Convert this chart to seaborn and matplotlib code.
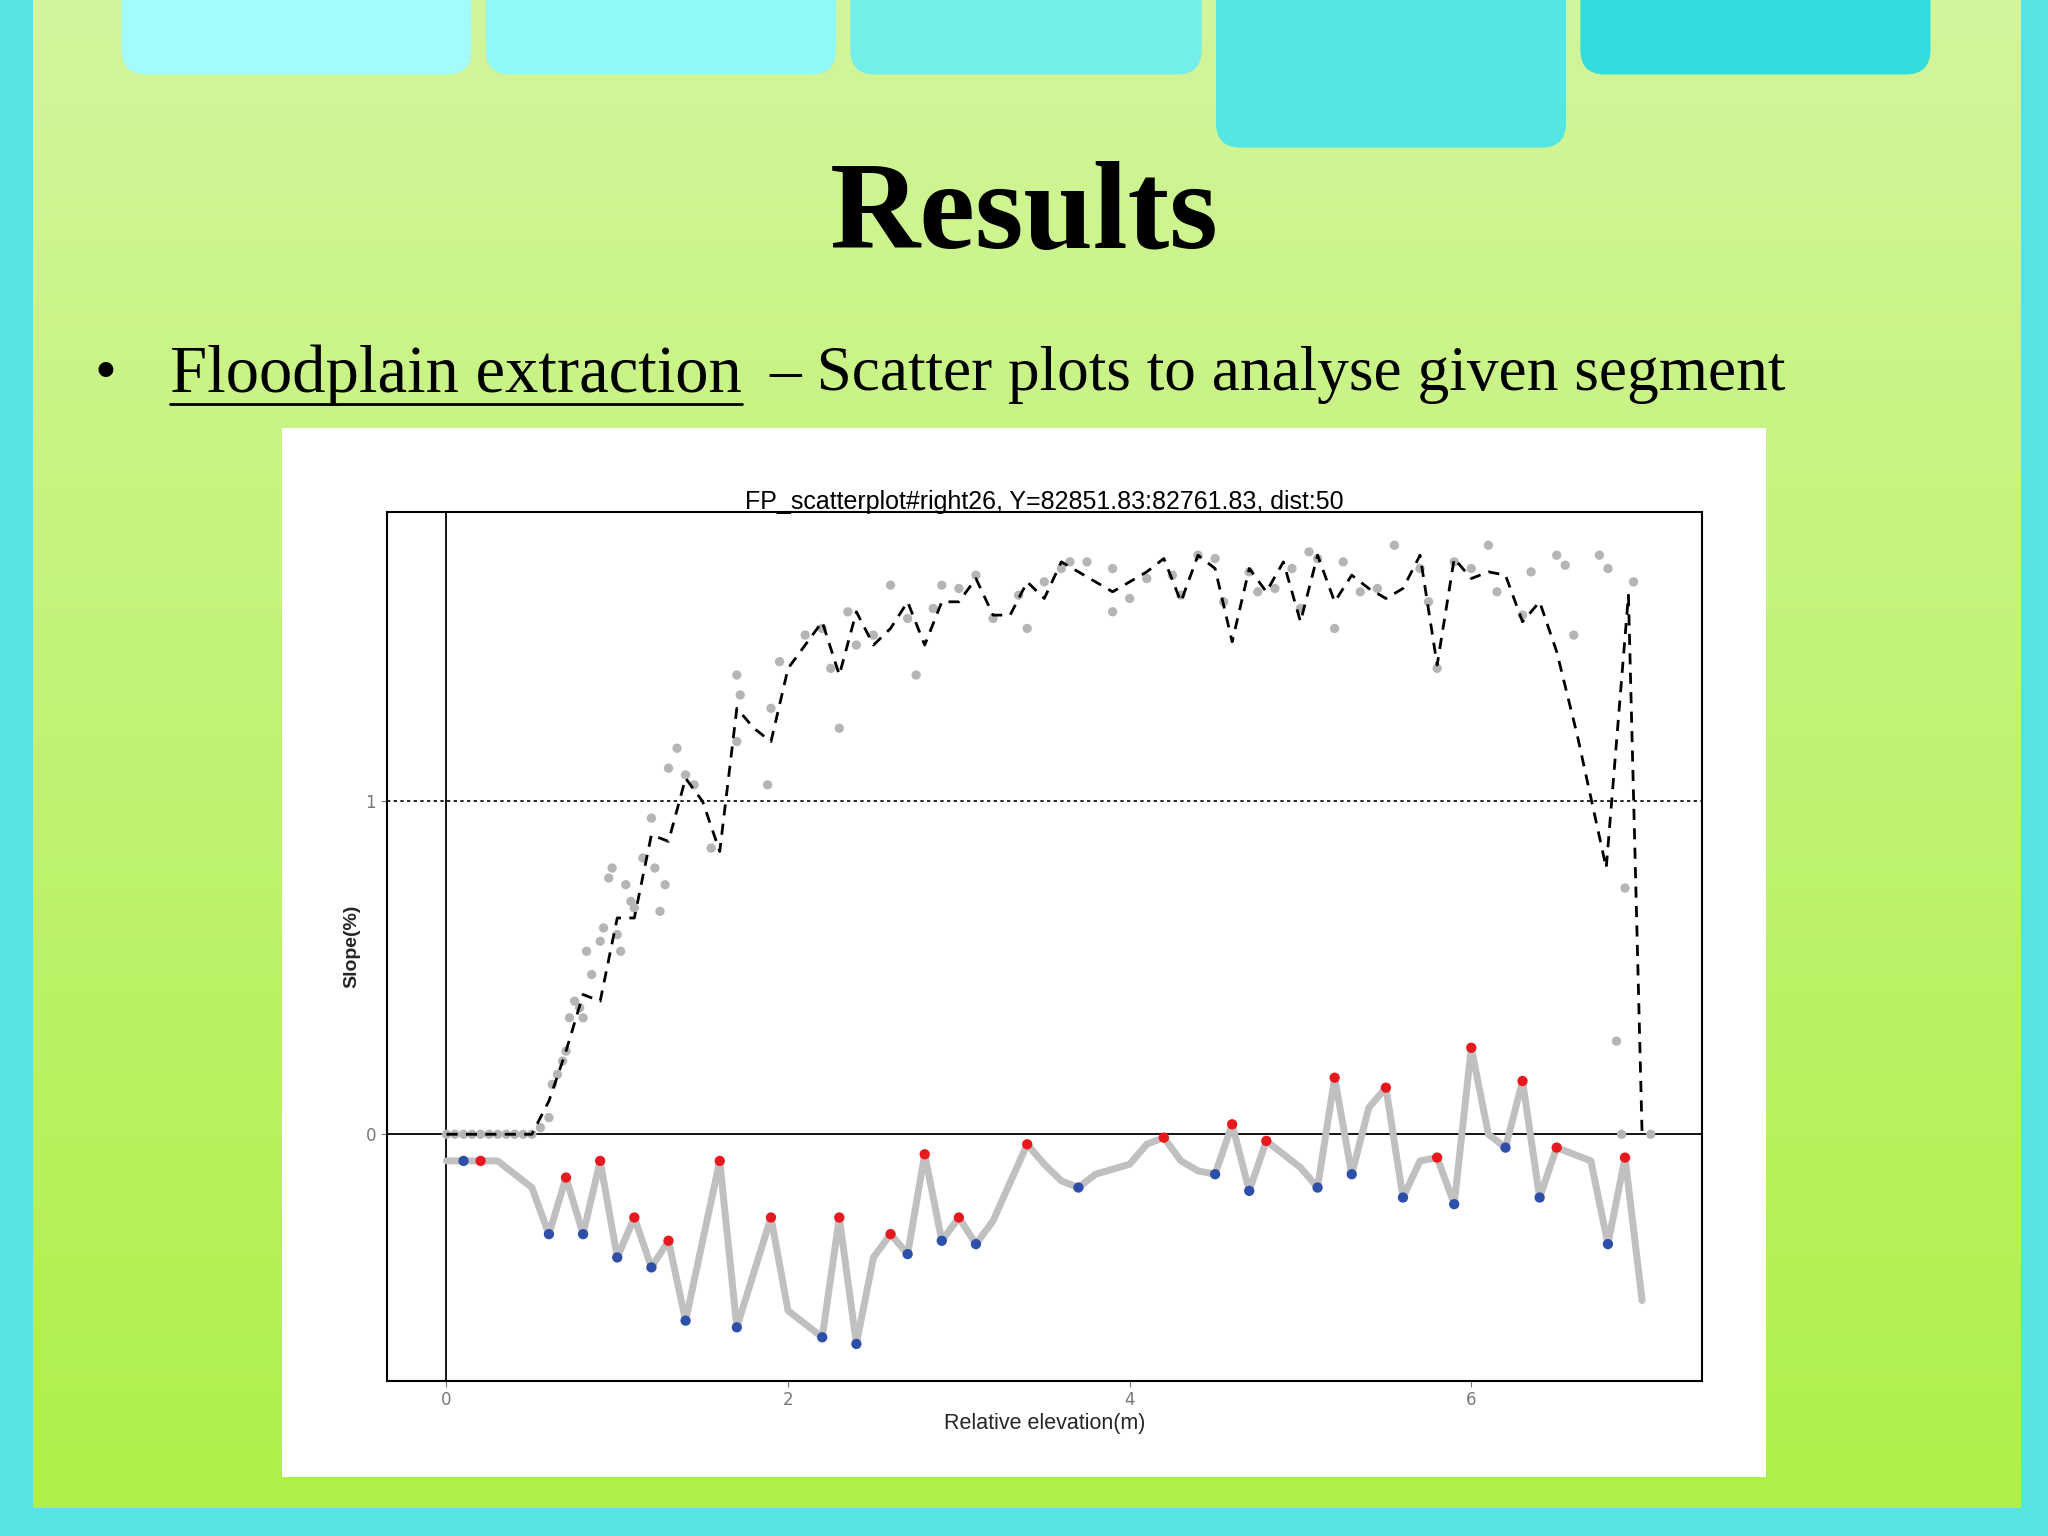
import numpy as np
import pandas as pd
import matplotlib
matplotlib.use("Agg")
import matplotlib.pyplot as plt
import seaborn as sns
from matplotlib.patches import FancyBboxPatch
from matplotlib.colors import LinearSegmentedColormap

sns.set_style("white")
plt.rcParams["text.color"] = "black"

# ---- data ----
dash_x = [0.0,0.1,0.2,0.3,0.4,0.5,0.6,0.7,0.8,0.9,1.0,1.1,1.2,1.3,1.4,1.5,1.6,1.7,1.8,1.9,
          2.0,2.1,2.2,2.3,2.4,2.5,2.6,2.7,2.8,2.9,3.0,3.1,3.2,3.3,3.4,3.5,3.6,3.7,3.8,3.9,
          4.0,4.1,4.2,4.3,4.4,4.5,4.6,4.7,4.8,4.9,5.0,5.1,5.2,5.3,5.4,5.5,5.6,5.7,5.8,5.9,
          6.0,6.1,6.2,6.3,6.4,6.5,6.62,6.79,6.92,7.0]
dash_y = [0,0,0,0,0,0,0.1,0.25,0.42,0.4,0.65,0.65,0.9,0.88,1.07,1.0,0.85,1.28,1.22,1.18,
          1.4,1.47,1.54,1.38,1.57,1.47,1.52,1.6,1.47,1.6,1.6,1.67,1.56,1.56,1.66,1.61,1.72,1.69,1.66,1.63,
          1.66,1.69,1.73,1.6,1.74,1.70,1.48,1.7,1.63,1.72,1.54,1.74,1.6,1.68,1.64,1.61,1.64,1.74,1.41,1.73,
          1.67,1.69,1.68,1.54,1.6,1.45,1.2,0.8,1.62,0.0]

pts_x = [0.0,0.05,0.1,0.15,0.2,0.25,0.3,0.35,0.4,0.45,0.5,0.55,0.6,0.62,0.65,0.68,0.7,0.72,0.75,0.78,
         0.8,0.82,0.85,0.9,0.92,0.95,0.97,1.0,1.02,1.05,1.08,1.1,1.15,1.2,1.22,1.25,1.28,1.3,1.35,1.4,
         1.45,1.55,1.7,1.72,1.7,1.88,1.9,1.95,2.1,2.2,2.25,2.3,2.35,2.4,2.5,2.6,2.7,2.75,2.85,2.9,
         3.0,3.1,3.2,3.35,3.4,3.5,3.6,3.65,3.75,3.9,3.9,4.0,4.1,4.25,4.3,4.4,4.5,4.55,4.7,4.75,
         4.85,4.95,5.0,5.05,5.1,5.2,5.25,5.35,5.45,5.55,5.7,5.75,5.8,5.9,6.0,6.1,6.15,6.3,6.35,6.5,
         6.55,6.6,6.75,6.8,6.85,6.88,6.9,6.95,7.05]
pts_y = [0,0,0,0,0,0,0,0,0,0,0,0.02,0.05,0.15,0.18,0.22,0.25,0.35,0.4,0.38,
         0.35,0.55,0.48,0.58,0.62,0.77,0.8,0.6,0.55,0.75,0.7,0.68,0.83,0.95,0.8,0.67,0.75,1.1,1.16,1.08,
         1.05,0.86,1.38,1.32,1.18,1.05,1.28,1.42,1.5,1.52,1.4,1.22,1.57,1.47,1.5,1.65,1.55,1.38,1.58,1.65,
         1.64,1.68,1.55,1.62,1.52,1.66,1.7,1.72,1.72,1.57,1.7,1.61,1.67,1.68,1.62,1.74,1.73,1.6,1.69,1.63,
         1.64,1.7,1.58,1.75,1.73,1.52,1.72,1.63,1.64,1.77,1.7,1.6,1.4,1.72,1.7,1.77,1.63,1.56,1.69,1.74,
         1.71,1.5,1.74,1.7,0.28,0.0,0.74,1.66,0.0]

low_x = [0.0,0.1,0.2,0.3,0.5,0.6,0.7,0.8,0.9,1.0,1.1,1.2,1.3,1.4,1.6,1.7,1.9,2.0,2.2,2.3,
         2.4,2.5,2.6,2.7,2.8,2.9,3.0,3.1,3.2,3.4,3.5,3.6,3.7,3.8,4.0,4.1,4.2,4.3,4.4,4.5,
         4.6,4.7,4.8,4.9,5.0,5.1,5.2,5.3,5.4,5.5,5.6,5.7,5.8,5.9,6.0,6.1,6.2,6.3,6.4,6.5,
         6.7,6.8,6.9,7.0]
low_y = [-0.08,-0.08,-0.08,-0.08,-0.16,-0.3,-0.13,-0.3,-0.08,-0.37,-0.25,-0.4,-0.32,-0.56,-0.08,-0.58,-0.25,-0.53,-0.61,-0.25,
         -0.63,-0.37,-0.3,-0.36,-0.06,-0.32,-0.25,-0.33,-0.26,-0.03,-0.09,-0.14,-0.16,-0.12,-0.09,-0.03,-0.01,-0.08,-0.11,-0.12,
         0.03,-0.17,-0.02,-0.06,-0.1,-0.16,0.17,-0.12,0.08,0.14,-0.19,-0.08,-0.07,-0.21,0.26,0.0,-0.04,0.16,-0.19,-0.04,
         -0.08,-0.33,-0.07,-0.5]
red_x = [0.2,0.7,0.9,1.1,1.3,1.6,1.9,2.3,2.6,2.8,3.0,3.4,4.2,4.6,4.8,5.2,5.5,5.8,6.0,6.3,6.5,6.9]
red_y = [-0.08,-0.13,-0.08,-0.25,-0.32,-0.08,-0.25,-0.25,-0.3,-0.06,-0.25,-0.03,-0.01,0.03,-0.02,0.17,0.14,-0.07,0.26,0.16,-0.04,-0.07]
blue_x = [0.1,0.6,0.8,1.0,1.2,1.4,1.7,2.2,2.4,2.7,2.9,3.1,3.7,4.5,4.7,5.1,5.3,5.6,5.9,6.2,6.4,6.8]
blue_y = [-0.08,-0.3,-0.3,-0.37,-0.4,-0.56,-0.58,-0.61,-0.63,-0.36,-0.32,-0.33,-0.16,-0.12,-0.17,-0.16,-0.12,-0.19,-0.21,-0.04,-0.19,-0.33]

# ---- figure & slide background ----
fig = plt.figure(figsize=(20.48, 15.36), dpi=100)
fig.patch.set_facecolor("#55e3e3")
bg = fig.add_axes([0.016, 0.018, 0.9706, 0.982], zorder=-10)
grad = np.linspace(0, 1, 256).reshape(-1, 1)
cmap = LinearSegmentedColormap.from_list("g", ["#d3f59c", "#aef049"])
bg.imshow(grad, aspect="auto", cmap=cmap, extent=[0, 1, 0, 1])
bg.set_axis_off()

tabs = [(93, 361, 57, "#a3fbfb"), (372, 640, 57, "#8ff9f9"), (651, 920, 57, "#74eee8"),
        (931, 1199, 113, "#55e6e3"), (1210, 1478, 57, "#33dcdc")]
for x0, x1, yb, c in tabs:
    bg.add_patch(FancyBboxPatch((x0/1568, 1 - yb/1176), (x1-x0)/1568, yb/1176 + 0.03,
                                boxstyle="round,pad=0,rounding_size=0.012",
                                transform=fig.transFigure, facecolor=c, edgecolor="none",
                                mutation_aspect=1.33, clip_on=False))

fig.text(0.5, 0.858, "Results", ha="center", va="center", fontsize=90,
         fontweight="bold", family="Liberation Serif")
fig.text(0.046, 0.756, "•", ha="left", va="center", fontsize=45, family="Liberation Serif")
t1 = fig.text(0.083, 0.756, "Floodplain extraction", ha="left", va="center", fontsize=48,
              family="Liberation Serif")
fig.canvas.draw()
bb = t1.get_window_extent().transformed(fig.transFigure.inverted())
fig.text(0.3757, 0.756, "– Scatter plots to analyse given segment", ha="left", va="center",
         fontsize=45.5, family="Liberation Serif")
fig.lines.append(plt.Line2D([bb.x0, bb.x1], [0.737, 0.737], transform=fig.transFigure,
                            color="black", lw=2))

panel = fig.add_axes([0.1378, 0.0383, 0.7244, 0.6828], zorder=-5)
panel.set_facecolor("white")
panel.set_xticks([]); panel.set_yticks([])
for s in panel.spines.values():
    s.set_visible(False)

# ---- chart ----
ax = fig.add_axes([0.1888, 0.1012, 0.6422, 0.5655], zorder=1)
ax.set_facecolor("white")
ax.axhline(1, color="black", lw=1.2, ls=(0, (2, 2)), zorder=1)
ax.axhline(0, color="black", lw=1.3, zorder=1)
ax.axvline(0, color="black", lw=1.3, zorder=1)

sns.scatterplot(x=pts_x, y=pts_y, ax=ax, color="#b5b5b5", s=45, edgecolor="none", zorder=2)
sns.lineplot(x=dash_x, y=dash_y, ax=ax, color="black", lw=2, ls=(0, (4, 3)), sort=False, zorder=3)
sns.lineplot(x=low_x, y=low_y, ax=ax, color="#c0c0c0", lw=5, sort=False, zorder=3)
sns.scatterplot(x=red_x, y=red_y, ax=ax, color="#e8191e", s=55, edgecolor="none", zorder=4)
sns.scatterplot(x=blue_x, y=blue_y, ax=ax, color="#2e4fa8", s=55, edgecolor="none", zorder=4)

ax.set_xlim(-0.35, 7.35)
ax.set_ylim(-0.74, 1.87)
ax.set_xticks([0, 2, 4, 6])
ax.set_yticks([0, 1])
ax.tick_params(axis="both", colors="#777777", labelsize=12, length=4, direction="out",
               bottom=True, left=True)
for s in ax.spines.values():
    s.set_color("black")
    s.set_linewidth(1.5)
ax.set_title("FP_scatterplot#right26, Y=82851.83:82761.83, dist:50", fontsize=18,
             family="Liberation Sans", pad=2)
ax.set_xlabel("Relative elevation(m)", fontsize=15.5, family="Liberation Sans", labelpad=3)
ax.set_ylabel("Slope(%)", fontsize=14, family="Liberation Sans", labelpad=4, fontweight="bold")

fig.savefig("out.png", dpi=100)
